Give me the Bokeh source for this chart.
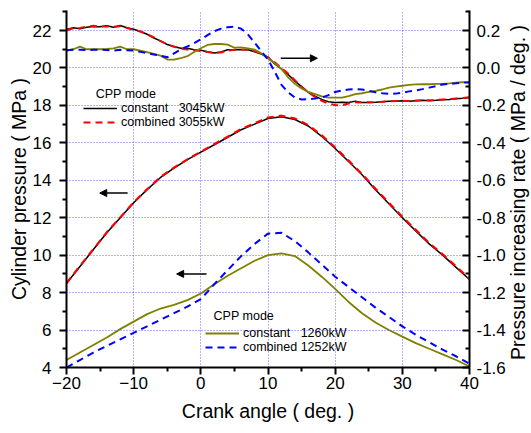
import math
from bokeh.plotting import figure
from bokeh.models import (Range1d, LinearAxis, FixedTicker, PrintfTickFormatter,
                          Legend, LegendItem, Label, Arrow, NormalHead)
from bokeh.embed import file_html
from bokeh.resources import INLINE

# ---------------- data ----------------
angle_p = [-20, -18, -16, -14, -12, -10, -8, -6, -4, -2, 0, 2, 4, 6, 8, 10,
           12, 14, 16, 18, 20, 22, 24, 26, 28, 30, 32, 34, 36, 38, 40]
p_const_3045 = [8.5, 9.4, 10.3, 11.2, 12.0, 12.8, 13.5, 14.15, 14.65, 15.1, 15.5,
                15.9, 16.3, 16.7, 17.0, 17.3, 17.4, 17.25, 16.9, 16.35, 15.7, 15.0,
                14.3, 13.5, 12.75, 12.0, 11.3, 10.6, 10.0, 9.35, 8.7]
p_comb_3055 = [8.5, 9.42, 10.32, 11.22, 12.02, 12.82, 13.52, 14.17, 14.68, 15.12, 15.52,
               15.93, 16.33, 16.74, 17.05, 17.35, 17.45, 17.3, 16.95, 16.4, 15.75, 15.05,
               14.33, 13.55, 12.8, 12.05, 11.35, 10.65, 10.05, 9.4, 8.75]
p_const_1260 = [4.4, 4.8, 5.2, 5.6, 6.05, 6.45, 6.85, 7.15, 7.35, 7.6, 7.95,
                8.45, 8.9, 9.3, 9.7, 10.0, 10.1, 9.95, 9.45, 8.85, 8.2, 7.5,
                6.9, 6.4, 6.0, 5.65, 5.3, 5.0, 4.7, 4.4, 4.05]
p_comb_1252 = [4.0, 4.4, 4.8, 5.15, 5.5, 5.85, 6.2, 6.55, 6.9, 7.25, 7.65,
               8.45, 9.2, 9.95, 10.6, 11.15, 11.2, 10.75, 10.15, 9.5, 8.85, 8.3,
               7.75, 7.2, 6.7, 6.2, 5.75, 5.35, 4.95, 4.6, 4.2]

angle_r = list(range(-20, 41))
r_const_3045 = [0.205, 0.215, 0.210, 0.218, 0.222, 0.220, 0.225, 0.218, 0.227, 0.215,
                0.207, 0.195, 0.180, 0.160, 0.145, 0.125, 0.115, 0.105, 0.105, 0.097,
                0.095, 0.087, 0.080, 0.085, 0.097, 0.097, 0.098, 0.097, 0.087, 0.074,
                0.058, 0.022, -0.005, -0.035, -0.070, -0.100, -0.130, -0.150, -0.168, -0.180,
                -0.185, -0.183, -0.185, -0.177, -0.185, -0.185, -0.183, -0.180, -0.178, -0.178,
                -0.175, -0.178, -0.175, -0.172, -0.175, -0.173, -0.170, -0.168, -0.165, -0.162,
                -0.158]
r_comb_3055 = [0.200, 0.212, 0.213, 0.220, 0.225, 0.222, 0.222, 0.220, 0.223, 0.213,
               0.203, 0.195, 0.180, 0.163, 0.143, 0.127, 0.113, 0.103, 0.098, 0.095,
               0.090, 0.085, 0.080, 0.083, 0.093, 0.097, 0.099, 0.097, 0.090, 0.075,
               0.057, 0.030, 0.000, -0.030, -0.065, -0.100, -0.130, -0.155, -0.175, -0.190,
               -0.198, -0.200, -0.190, -0.183, -0.185, -0.183, -0.183, -0.180, -0.178, -0.177,
               -0.176, -0.177, -0.174, -0.173, -0.172, -0.172, -0.168, -0.167, -0.163, -0.160,
               -0.157]
r_const_1260 = [0.093, 0.100, 0.114, 0.100, 0.100, 0.100, 0.102, 0.105, 0.114, 0.100,
                0.100, 0.092, 0.084, 0.075, 0.066, 0.045, 0.045, 0.052, 0.063, 0.085,
                0.105, 0.123, 0.128, 0.128, 0.125, 0.108, 0.110, 0.105, 0.098, 0.078,
                0.050, 0.025, -0.005, -0.050, -0.085, -0.110, -0.128, -0.140, -0.152, -0.158,
                -0.158, -0.158, -0.150, -0.140, -0.135, -0.128, -0.122, -0.115, -0.105, -0.100,
                -0.095, -0.090, -0.088, -0.086, -0.087, -0.085, -0.085, -0.082, -0.078, -0.076,
                -0.080]
r_comb_1252 = [0.095, 0.097, 0.097, 0.095, 0.097, 0.098, 0.096, 0.093, 0.097, 0.095,
               0.093, 0.086, 0.079, 0.072, 0.066, 0.057, 0.078, 0.099, 0.115, 0.132,
               0.153, 0.175, 0.196, 0.210, 0.218, 0.221, 0.210, 0.180, 0.135, 0.090,
               0.045, -0.020, -0.090, -0.130, -0.158, -0.168, -0.167, -0.163, -0.158, -0.145,
               -0.128, -0.120, -0.115, -0.112, -0.115, -0.122, -0.130, -0.135, -0.138, -0.137,
               -0.133, -0.125, -0.120, -0.113, -0.105, -0.097, -0.088, -0.085, -0.082, -0.078,
               -0.076]

x_ticks = [-20, -10, 0, 10, 20, 30, 40]
x_minor = [-15, -5, 5, 15, 25, 35]
y_ticks = [4, 6, 8, 10, 12, 14, 16, 18, 20, 22]
y_minor = [5, 7, 9, 11, 13, 15, 17, 19, 21, 23]
r_ticks = [-1.6, -1.4, -1.2, -1.0, -0.8, -0.6, -0.4, -0.2, 0.0, 0.2]
r_minor = [-1.5, -1.3, -1.1, -0.9, -0.7, -0.5, -0.3, -0.1, 0.1, 0.3]

FONT = "Liberation Sans"
TICK_FS = "17px"
LABEL_FS = "19.5px"

# ---------------- figure ----------------
W, H = 530, 432
p = figure(width=W, height=H, x_range=Range1d(-20, 40), y_range=Range1d(4, 23.07),
           output_backend="svg", toolbar_location=None,
           min_border_left=66, min_border_right=W - 471, min_border_top=10,
           min_border_bottom=H - 367,
           x_axis_label="Crank angle ( deg. )", y_axis_label="Cylinder pressure ( MPa )")
p.extra_y_ranges = {"rate": Range1d(-1.6, 0.307)}
p.outline_line_color = None
p.background_fill_color = "white"
p.border_fill_color = "white"

p.xaxis.ticker = FixedTicker(ticks=x_ticks, minor_ticks=x_minor)
p.yaxis.ticker = FixedTicker(ticks=y_ticks, minor_ticks=y_minor)

raxis = LinearAxis(y_range_name="rate",
                   ticker=FixedTicker(ticks=r_ticks, minor_ticks=r_minor),
                   formatter=PrintfTickFormatter(format="%.1f"))
p.add_layout(raxis, "right")

for ax in [p.xaxis[0], p.yaxis[0], raxis]:
    ax.axis_line_width = 2
    ax.major_tick_line_width = 2
    ax.minor_tick_line_width = 2
    ax.major_label_text_font = FONT
    ax.major_label_text_font_size = TICK_FS
    ax.major_label_text_color = "black"
    ax.axis_label_text_font = FONT
    ax.axis_label_text_font_size = LABEL_FS
    ax.axis_label_text_font_style = "normal"
    ax.axis_label_text_color = "black"

p.xaxis.major_tick_out = 7
p.xaxis.major_tick_in = 0
p.xaxis.minor_tick_out = 4
p.xaxis.minor_tick_in = 0
p.xaxis.major_label_standoff = 2
p.xaxis.axis_label_standoff = 8

p.yaxis[0].major_tick_out = 7
p.yaxis[0].major_tick_in = 0
p.yaxis[0].minor_tick_out = 4
p.yaxis[0].minor_tick_in = 0
p.yaxis[0].major_label_standoff = 8
p.yaxis[0].axis_label_standoff = 0

raxis.major_tick_out = 0
raxis.major_tick_in = 7
raxis.minor_tick_out = 0
raxis.minor_tick_in = 4
raxis.major_label_standoff = 7

# right-hand axis title, reading bottom to top, placed in the right side panel
p.add_layout(Label(x=47.2, y=13.35, text="Pressure increasing rate ( MPa / deg. )",
                   angle=90, angle_units="deg", text_align="center", text_baseline="middle",
                   text_font=FONT, text_font_size=LABEL_FS, text_color="black"), "right")

for g in [p.xgrid[0], p.ygrid[0]]:
    g.grid_line_color = "#3030ff"
    g.grid_line_alpha = 0.75
    g.grid_line_dash = "1 2"
    g.grid_line_width = 1
p.xgrid.ticker = FixedTicker(ticks=x_ticks)
p.ygrid.ticker = FixedTicker(ticks=y_ticks)

# ---------------- curves ----------------
OLIVE = "#808000"
r_rc = p.line(angle_r, r_const_3045, y_range_name="rate", line_color="black", line_width=1.5)
r_rm = p.line(angle_r, r_comb_3055, y_range_name="rate", line_color="red", line_width=2, line_dash="7 5")
r_ro = p.line(angle_r, r_const_1260, y_range_name="rate", line_color=OLIVE, line_width=1.8)
r_rb = p.line(angle_r, r_comb_1252, y_range_name="rate", line_color="blue", line_width=2, line_dash="7 5")

r_pc = p.line(angle_p, p_const_3045, line_color="black", line_width=1.5)
r_pm = p.line(angle_p, p_comb_3055, line_color="red", line_width=2.2, line_dash="7 5")
r_po = p.line(angle_p, p_const_1260, line_color=OLIVE, line_width=1.8)
r_pb = p.line(angle_p, p_comb_1252, line_color="blue", line_width=2, line_dash="7 5")

# ---------------- legends ----------------
def make_legend(items, loc):
    lg = Legend(items=items, location=loc, orientation="vertical")
    lg.background_fill_alpha = 0
    lg.border_line_color = None
    lg.padding = 0
    lg.margin = 0
    lg.spacing = 0
    lg.glyph_width = 34
    lg.glyph_height = 14
    lg.label_height = 14
    lg.label_standoff = 4
    lg.label_text_font = FONT
    lg.label_text_font_size = "12.5px"
    lg.label_text_color = "black"
    return lg

leg1 = make_legend([LegendItem(label="constant   3045kW", renderers=[r_pc]),
                    LegendItem(label="combined 3055kW", renderers=[r_pm])], (17, 238))
leg2 = make_legend([LegendItem(label="constant   1260kW", renderers=[r_po]),
                    LegendItem(label="combined 1252kW", renderers=[r_pb])], (139, 13))
p.add_layout(leg1)
p.add_layout(leg2)

for (lx, ly) in [(-15.65, 18.63), (1.9, 6.73)]:
    p.add_layout(Label(x=lx, y=ly, text="CPP mode", text_font=FONT, text_font_size="12.5px",
                       text_baseline="middle", text_color="black"))

# ---------------- arrows ----------------
for (xs, xe, yy) in [(-10.9, -15.05, 13.32), (0.85, -3.6, 9.0), (11.9, 17.35, 20.52)]:
    p.add_layout(Arrow(end=NormalHead(size=7, fill_color="black", line_color="black"),
                       x_start=xs, y_start=yy, x_end=xe, y_end=yy,
                       line_color="black", line_width=1.5))

open("out.html", "w").write(file_html(p, INLINE))
